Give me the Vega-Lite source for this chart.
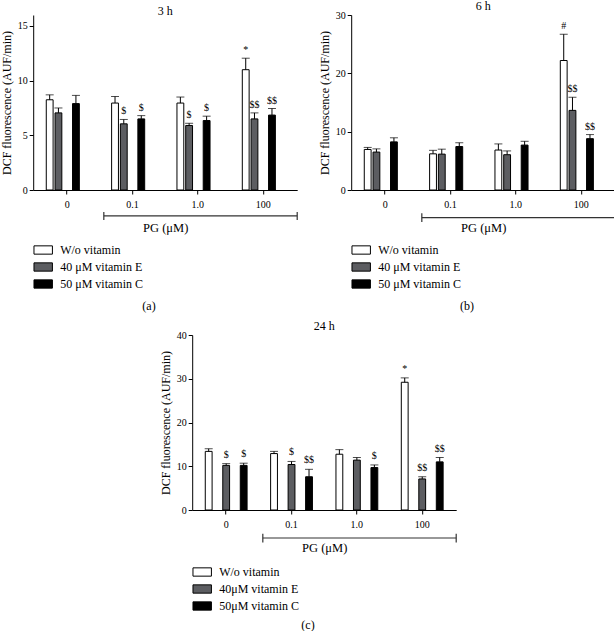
{
  "$schema": "https://vega.github.io/schema/vega-lite/v6.json",
  "padding": 0,
  "datasets": {
    "a": [
      {"dose": "0", "treat": "W/o vitamin", "mean": 8.25, "upper": 8.7, "sig": ""},
      {"dose": "0", "treat": "40 μM vitamin E", "mean": 7.05, "upper": 7.5, "sig": ""},
      {"dose": "0", "treat": "50 μM vitamin C", "mean": 7.9, "upper": 8.65, "sig": ""},
      {"dose": "0.1", "treat": "W/o vitamin", "mean": 7.95, "upper": 8.55, "sig": ""},
      {"dose": "0.1", "treat": "40 μM vitamin E", "mean": 6.05, "upper": 6.45, "sig": "$"},
      {"dose": "0.1", "treat": "50 μM vitamin C", "mean": 6.5, "upper": 6.8, "sig": "$"},
      {"dose": "1.0", "treat": "W/o vitamin", "mean": 7.95, "upper": 8.5, "sig": ""},
      {"dose": "1.0", "treat": "40 μM vitamin E", "mean": 5.9, "upper": 6.1, "sig": "$"},
      {"dose": "1.0", "treat": "50 μM vitamin C", "mean": 6.35, "upper": 6.75, "sig": "$"},
      {"dose": "100", "treat": "W/o vitamin", "mean": 11.0, "upper": 12.05, "sig": "*"},
      {"dose": "100", "treat": "40 μM vitamin E", "mean": 6.5, "upper": 7.05, "sig": "$$"},
      {"dose": "100", "treat": "50 μM vitamin C", "mean": 6.85, "upper": 7.45, "sig": "$$"}
    ],
    "b": [
      {"dose": "0", "treat": "W/o vitamin", "mean": 6.95, "upper": 7.3, "sig": ""},
      {"dose": "0", "treat": "40 μM vitamin E", "mean": 6.5, "upper": 7.05, "sig": ""},
      {"dose": "0", "treat": "50 μM vitamin C", "mean": 8.25, "upper": 8.95, "sig": ""},
      {"dose": "0.1", "treat": "W/o vitamin", "mean": 6.2, "upper": 6.8, "sig": ""},
      {"dose": "0.1", "treat": "40 μM vitamin E", "mean": 6.15, "upper": 7.0, "sig": ""},
      {"dose": "0.1", "treat": "50 μM vitamin C", "mean": 7.45, "upper": 8.1, "sig": ""},
      {"dose": "1.0", "treat": "W/o vitamin", "mean": 6.85, "upper": 7.9, "sig": ""},
      {"dose": "1.0", "treat": "40 μM vitamin E", "mean": 6.05, "upper": 6.7, "sig": ""},
      {"dose": "1.0", "treat": "50 μM vitamin C", "mean": 7.7, "upper": 8.35, "sig": ""},
      {"dose": "100", "treat": "W/o vitamin", "mean": 22.2, "upper": 26.7, "sig": "#"},
      {"dose": "100", "treat": "40 μM vitamin E", "mean": 13.65, "upper": 15.9, "sig": "$$"},
      {"dose": "100", "treat": "50 μM vitamin C", "mean": 8.8, "upper": 9.5, "sig": "$$"}
    ],
    "c": [
      {"dose": "0", "treat": "W/o vitamin", "mean": 13.4, "upper": 14.0, "sig": ""},
      {"dose": "0", "treat": "40μM vitamin E", "mean": 10.2, "upper": 10.6, "sig": "$"},
      {"dose": "0", "treat": "50μM vitamin C", "mean": 10.2, "upper": 10.7, "sig": "$"},
      {"dose": "0.1", "treat": "W/o vitamin", "mean": 12.9, "upper": 13.4, "sig": ""},
      {"dose": "0.1", "treat": "40μM vitamin E", "mean": 10.4, "upper": 11.1, "sig": "$"},
      {"dose": "0.1", "treat": "50μM vitamin C", "mean": 7.6, "upper": 9.3, "sig": "$$"},
      {"dose": "1.0", "treat": "W/o vitamin", "mean": 12.75, "upper": 13.8, "sig": ""},
      {"dose": "1.0", "treat": "40μM vitamin E", "mean": 11.4, "upper": 12.0, "sig": ""},
      {"dose": "1.0", "treat": "50μM vitamin C", "mean": 9.7, "upper": 10.3, "sig": "$"},
      {"dose": "100", "treat": "W/o vitamin", "mean": 29.2, "upper": 30.2, "sig": "*"},
      {"dose": "100", "treat": "40μM vitamin E", "mean": 7.1, "upper": 7.6, "sig": "$$"},
      {"dose": "100", "treat": "50μM vitamin C", "mean": 11.0, "upper": 12.0, "sig": "$$"}
    ],
    "bracket": [{"from": 1.07, "to": 4}]
  },
  "vconcat": [
    {
      "hconcat": [
        {
          "title": {"text": "(a)", "orient": "bottom", "offset": 10, "anchor": "middle"},
          "resolve": {"scale": {"fill": "independent", "x": "independent", "y": "independent"}, "legend": {"fill": "independent"}},
          "vconcat": [
            {
              "title": "3 h",
              "width": 264,
              "height": 175,
              "resolve": {"scale": {"x": "independent"}},
              "layer": [
                {
                  "data": {"name": "a"},
                  "encoding": {
                    "x": {"field": "dose", "type": "nominal", "sort": ["0", "0.1", "1.0", "100"], "scale": {"paddingInner": 0.36, "paddingOuter": 0.2}, "axis": {"title": "PG (μM)", "labelAngle": 0, "labelPadding": 5, "titlePadding": 12, "domain": true, "ticks": true}},
                    "xOffset": {"field": "treat", "type": "nominal", "sort": ["W/o vitamin", "40 μM vitamin E", "50 μM vitamin C"], "scale": {"paddingInner": 0.22}}
                  },
                  "layer": [
                    {
                      "mark": {"type": "bar", "stroke": "black", "strokeWidth": 1},
                      "encoding": {
                        "y": {"field": "mean", "type": "quantitative", "scale": {"domain": [0, 15]}, "axis": {"values": [0, 5, 10, 15]}, "title": "DCF fluorescence (AUF/min)"},
                        "fill": {"field": "treat", "type": "nominal", "scale": {"domain": ["W/o vitamin", "40 μM vitamin E", "50 μM vitamin C"], "range": ["#ffffff", "#5c5d61", "#000000"]}, "legend": {"orient": "bottom", "direction": "vertical", "title": null, "offset": 6}}
                      }
                    },
                    {
                      "mark": {"type": "rule", "color": "black", "strokeWidth": 1},
                      "encoding": {"y": {"field": "mean", "type": "quantitative", "title": "DCF fluorescence (AUF/min)"}, "y2": {"field": "upper"}}
                    },
                    {
                      "mark": {"type": "tick", "orient": "horizontal", "size": 8, "thickness": 1, "color": "black"},
                      "encoding": {"y": {"field": "upper", "type": "quantitative", "title": "DCF fluorescence (AUF/min)"}}
                    },
                    {
                      "mark": {"type": "text", "baseline": "bottom", "dy": -3, "fontSize": 10},
                      "encoding": {"y": {"field": "upper", "type": "quantitative", "title": "DCF fluorescence (AUF/min)"}, "text": {"field": "sig"}}
                    }
                  ]
                },
                {
                  "data": {"name": "bracket"},
                  "layer": [
                    {"mark": {"type": "rule", "color": "#333", "strokeWidth": 1.2}, "encoding": {"x": {"field": "from", "type": "quantitative", "scale": {"domain": [0, 4]}, "axis": null}, "x2": {"field": "to"}, "y": {"datum": -2.37, "type": "quantitative", "scale": {"domain": [0, 15]}, "title": "DCF fluorescence (AUF/min)"}}},
                    {"mark": {"type": "rule", "color": "#333", "strokeWidth": 1.2}, "encoding": {"x": {"field": "from", "type": "quantitative", "scale": {"domain": [0, 4]}, "axis": null}, "y": {"datum": -2.0, "type": "quantitative", "title": "DCF fluorescence (AUF/min)"}, "y2": {"datum": -2.74}}},
                    {"mark": {"type": "rule", "color": "#333", "strokeWidth": 1.2}, "encoding": {"x": {"field": "to", "type": "quantitative", "scale": {"domain": [0, 4]}, "axis": null}, "y": {"datum": -2.0, "type": "quantitative", "title": "DCF fluorescence (AUF/min)"}, "y2": {"datum": -2.74}}}
                  ]
                }
              ]
            }
          ]
        },
        {
          "title": {"text": "(b)", "orient": "bottom", "offset": 10, "anchor": "middle"},
          "resolve": {"scale": {"fill": "independent", "x": "independent", "y": "independent"}, "legend": {"fill": "independent"}},
          "vconcat": [
            {
              "title": "6 h",
              "width": 264,
              "height": 175,
              "resolve": {"scale": {"x": "independent"}},
              "layer": [
                {
                  "data": {"name": "b"},
                  "encoding": {
                    "x": {"field": "dose", "type": "nominal", "sort": ["0", "0.1", "1.0", "100"], "scale": {"paddingInner": 0.36, "paddingOuter": 0.2}, "axis": {"title": "PG (μM)", "labelAngle": 0, "labelPadding": 5, "titlePadding": 12, "domain": true, "ticks": true}},
                    "xOffset": {"field": "treat", "type": "nominal", "sort": ["W/o vitamin", "40 μM vitamin E", "50 μM vitamin C"], "scale": {"paddingInner": 0.22}}
                  },
                  "layer": [
                    {
                      "mark": {"type": "bar", "stroke": "black", "strokeWidth": 1},
                      "encoding": {
                        "y": {"field": "mean", "type": "quantitative", "scale": {"domain": [0, 30]}, "axis": {"values": [0, 10, 20, 30]}, "title": "DCF fluorescence (AUF/min)"},
                        "fill": {"field": "treat", "type": "nominal", "scale": {"domain": ["W/o vitamin", "40 μM vitamin E", "50 μM vitamin C"], "range": ["#ffffff", "#5c5d61", "#000000"]}, "legend": {"orient": "bottom", "direction": "vertical", "title": null, "offset": 6}}
                      }
                    },
                    {
                      "mark": {"type": "rule", "color": "black", "strokeWidth": 1},
                      "encoding": {"y": {"field": "mean", "type": "quantitative", "title": "DCF fluorescence (AUF/min)"}, "y2": {"field": "upper"}}
                    },
                    {
                      "mark": {"type": "tick", "orient": "horizontal", "size": 8, "thickness": 1, "color": "black"},
                      "encoding": {"y": {"field": "upper", "type": "quantitative", "title": "DCF fluorescence (AUF/min)"}}
                    },
                    {
                      "mark": {"type": "text", "baseline": "bottom", "dy": -3, "fontSize": 10},
                      "encoding": {"y": {"field": "upper", "type": "quantitative", "title": "DCF fluorescence (AUF/min)"}, "text": {"field": "sig"}}
                    }
                  ]
                },
                {
                  "data": {"name": "bracket"},
                  "layer": [
                    {"mark": {"type": "rule", "color": "#333", "strokeWidth": 1.2}, "encoding": {"x": {"field": "from", "type": "quantitative", "scale": {"domain": [0, 4]}, "axis": null}, "x2": {"field": "to"}, "y": {"datum": -4.74, "type": "quantitative", "scale": {"domain": [0, 30]}, "title": "DCF fluorescence (AUF/min)"}}},
                    {"mark": {"type": "rule", "color": "#333", "strokeWidth": 1.2}, "encoding": {"x": {"field": "from", "type": "quantitative", "scale": {"domain": [0, 4]}, "axis": null}, "y": {"datum": -4.0, "type": "quantitative", "title": "DCF fluorescence (AUF/min)"}, "y2": {"datum": -5.48}}},
                    {"mark": {"type": "rule", "color": "#333", "strokeWidth": 1.2}, "encoding": {"x": {"field": "to", "type": "quantitative", "scale": {"domain": [0, 4]}, "axis": null}, "y": {"datum": -4.0, "type": "quantitative", "title": "DCF fluorescence (AUF/min)"}, "y2": {"datum": -5.48}}}
                  ]
                }
              ]
            }
          ]
        }
      ],
      "spacing": 20,
      "resolve": {"scale": {"fill": "independent", "x": "independent", "y": "independent"}, "legend": {"fill": "independent"}}
    },
    {
      "title": {"text": "(c)", "orient": "bottom", "offset": 7, "anchor": "middle"},
      "resolve": {"scale": {"fill": "independent", "x": "independent", "y": "independent"}, "legend": {"fill": "independent"}},
      "vconcat": [
        {
          "title": "24 h",
          "width": 264,
          "height": 175,
          "resolve": {"scale": {"x": "independent"}},
          "layer": [
            {
              "data": {"name": "c"},
              "encoding": {
                "x": {"field": "dose", "type": "nominal", "sort": ["0", "0.1", "1.0", "100"], "scale": {"paddingInner": 0.36, "paddingOuter": 0.2}, "axis": {"title": "PG (μM)", "labelAngle": 0, "labelPadding": 5, "titlePadding": 12, "domain": true, "ticks": true}},
                "xOffset": {"field": "treat", "type": "nominal", "sort": ["W/o vitamin", "40μM vitamin E", "50μM vitamin C"], "scale": {"paddingInner": 0.22}}
              },
              "layer": [
                {
                  "mark": {"type": "bar", "stroke": "black", "strokeWidth": 1},
                  "encoding": {
                    "y": {"field": "mean", "type": "quantitative", "scale": {"domain": [0, 40]}, "axis": {"values": [0, 10, 20, 30, 40]}, "title": "DCF fluorescence (AUF/min)"},
                    "fill": {"field": "treat", "type": "nominal", "scale": {"domain": ["W/o vitamin", "40μM vitamin E", "50μM vitamin C"], "range": ["#ffffff", "#5c5d61", "#000000"]}, "legend": {"orient": "bottom", "direction": "vertical", "title": null, "offset": 8}}
                  }
                },
                {
                  "mark": {"type": "rule", "color": "black", "strokeWidth": 1},
                  "encoding": {"y": {"field": "mean", "type": "quantitative", "title": "DCF fluorescence (AUF/min)"}, "y2": {"field": "upper"}}
                },
                {
                  "mark": {"type": "tick", "orient": "horizontal", "size": 8, "thickness": 1, "color": "black"},
                  "encoding": {"y": {"field": "upper", "type": "quantitative", "title": "DCF fluorescence (AUF/min)"}}
                },
                {
                  "mark": {"type": "text", "baseline": "bottom", "dy": -4, "fontSize": 10},
                  "encoding": {"y": {"field": "upper", "type": "quantitative", "title": "DCF fluorescence (AUF/min)"}, "text": {"field": "sig"}}
                }
              ]
            },
            {
              "data": {"name": "bracket"},
              "layer": [
                {"mark": {"type": "rule", "color": "#333", "strokeWidth": 1.2}, "encoding": {"x": {"field": "from", "type": "quantitative", "scale": {"domain": [0, 4]}, "axis": null}, "x2": {"field": "to"}, "y": {"datum": -6.4, "type": "quantitative", "scale": {"domain": [0, 40]}, "title": "DCF fluorescence (AUF/min)"}}},
                {"mark": {"type": "rule", "color": "#333", "strokeWidth": 1.2}, "encoding": {"x": {"field": "from", "type": "quantitative", "scale": {"domain": [0, 4]}, "axis": null}, "y": {"datum": -5.4, "type": "quantitative", "title": "DCF fluorescence (AUF/min)"}, "y2": {"datum": -7.4}}},
                {"mark": {"type": "rule", "color": "#333", "strokeWidth": 1.2}, "encoding": {"x": {"field": "to", "type": "quantitative", "scale": {"domain": [0, 4]}, "axis": null}, "y": {"datum": -5.4, "type": "quantitative", "title": "DCF fluorescence (AUF/min)"}, "y2": {"datum": -7.4}}}
              ]
            }
          ]
        }
      ]
    }
  ],
  "center": true,
  "spacing": 8,
  "resolve": {"scale": {"fill": "independent", "x": "independent", "y": "independent"}, "legend": {"fill": "independent"}},
  "config": {
    "font": "Liberation Serif",
    "view": {"stroke": null},
    "axis": {"labelFont": "Liberation Serif", "titleFont": "Liberation Serif", "labelFontSize": 10, "titleFontSize": 12, "titleFontWeight": "normal", "domainColor": "black", "tickColor": "black", "labelColor": "black", "titleColor": "black", "grid": false, "tickSize": 4, "titlePadding": 4},
    "axisX": {"titleFontSize": 12.5},
    "title": {"font": "Liberation Serif", "fontSize": 12, "fontWeight": "normal", "color": "black", "offset": -3},
    "legend": {"labelFont": "Liberation Serif", "labelFontSize": 12, "labelColor": "black", "symbolType": "M-1,-0.45H1V0.45H-1Z", "symbolSize": 340, "symbolStrokeColor": "black", "symbolStrokeWidth": 1, "rowPadding": 0, "labelOffset": 7},
    "text": {"font": "Liberation Serif", "fontSize": 10, "color": "black"}
  }
}
